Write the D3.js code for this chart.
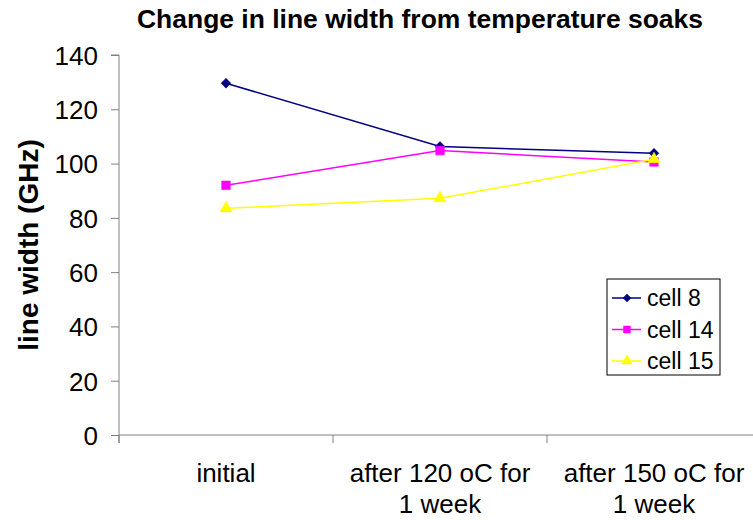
<!DOCTYPE html>
<html><head><meta charset="utf-8">
<script src="https://cdn.jsdelivr.net/npm/d3@7"></script>
<style>
body{margin:0;background:#fff;}
svg{display:block;font-family:Arial,"Liberation Sans",sans-serif;}
</style></head>
<body>
<svg id="c" width="753" height="520"></svg>
<script>
const categories = [["initial"], ["after 120 oC for", "1 week"], ["after 150 oC for", "1 week"]];
const seriesNames = ["cell 8", "cell 14", "cell 15"];
const cell8 = [129.6, 106.3, 103.8];
const cell14 = [92.0, 104.8, 100.6];
const cell15 = [83.5, 87.2, 101.6];
const yTicks = [0, 20, 40, 60, 80, 100, 120, 140];
const colors = ["#000080", "#FF00FF", "#FFFF00"];
const symbols = [d3.symbolSquare, d3.symbolSquare, d3.symbolTriangle];
const rotations = [45, 0, 0];
const series = [cell8, cell14, cell15];

const svg = d3.select("#c");
const pLeft = 119, pBottom = 435, pTop = 55, bandW = 214;
const x = d3.scaleBand().domain(d3.range(categories.length)).range([pLeft, pLeft + bandW * categories.length]).padding(0);
const y = d3.scaleLinear().domain([0, 140]).range([pBottom, pTop]);

// title
svg.append("text").attr("x", 420).attr("y", 28).attr("text-anchor", "middle")
  .attr("font-size", 26).attr("font-weight", "bold")
  .attr("textLength", 566).attr("lengthAdjust", "spacingAndGlyphs")
  .text("Change in line width from temperature soaks");

// y axis label
svg.append("text").attr("transform", "translate(38,245) rotate(-90)").attr("text-anchor", "middle")
  .attr("font-size", 28).attr("font-weight", "bold").text("line width (GHz)");

// y axis
const ya = svg.append("g").attr("transform", `translate(${pLeft},0)`)
  .call(d3.axisLeft(y).tickValues(yTicks).tickSize(8).tickPadding(13).tickFormat(d3.format("d")));
ya.select(".domain").attr("stroke", "#808080").attr("d", `M-8,${pTop}H0V${pBottom + 8}`);
ya.selectAll(".tick line").attr("stroke", "#808080");
ya.selectAll(".tick text").attr("font-size", 26).attr("fill", "#000").attr("font-family", "Arial,'Liberation Sans',sans-serif").attr("dy", "0.36em");

// x axis
const xa = svg.append("g").attr("transform", `translate(0,${pBottom})`);
xa.append("line").attr("x1", pLeft).attr("x2", pLeft + bandW * categories.length).attr("stroke", "#808080");
xa.selectAll("line.t").data(d3.range(categories.length + 1)).join("line").attr("class", "t")
  .attr("x1", d => pLeft + d * x.step()).attr("x2", d => pLeft + d * x.step())
  .attr("y1", 0).attr("y2", 8).attr("stroke", "#808080");
const lbl = xa.selectAll("text.cat").data(categories).join("text").attr("class", "cat")
  .attr("x", (d, i) => x(i) + x.bandwidth() / 2).attr("y", 47)
  .attr("text-anchor", "middle").attr("font-size", 26);
lbl.selectAll("tspan").data(d => d).join("tspan")
  .attr("x", function () { return d3.select(this.parentNode).attr("x"); })
  .attr("dy", (d, i) => i === 0 ? 0 : 31).text(d => d);

// lines & markers
const line = d3.line().x((d, i) => x(i) + x.bandwidth() / 2).y(d => y(d));
series.forEach((s, k) => {
  svg.append("path").datum(s).attr("d", line).attr("fill", "none").attr("stroke", colors[k]).attr("stroke-width", 1.5);
});
const sizes = [48, 75, 65];
series.forEach((s, k) => {
  svg.selectAll(null).data(s).join("path")
    .attr("transform", (d, i) => `translate(${x(i) + x.bandwidth() / 2},${y(d)}) rotate(${rotations[k]})`)
    .attr("d", d3.symbol().type(symbols[k]).size(sizes[k]))
    .attr("fill", colors[k]).attr("stroke", colors[k]).attr("stroke-width", 0.5);
});

// legend
const lg = svg.append("g").attr("transform", "translate(607,279)");
lg.append("rect").attr("width", 113).attr("height", 96).attr("fill", "#fff").attr("stroke", "#000").attr("stroke-width", 1);
const lsizes = [36, 55, 55];
seriesNames.forEach((n, k) => {
  const yy = 19 + k * 31.5;
  lg.append("line").attr("x1", 5).attr("x2", 34).attr("y1", yy).attr("y2", yy).attr("stroke", colors[k]).attr("stroke-width", 1.5);
  lg.append("path").attr("transform", `translate(20,${yy}) rotate(${rotations[k]})`)
    .attr("d", d3.symbol().type(symbols[k]).size(lsizes[k])).attr("fill", colors[k]);
  lg.append("text").attr("x", 40).attr("y", yy).attr("dy", "0.36em").attr("font-size", 23).text(n);
});
</script>
</body></html>
